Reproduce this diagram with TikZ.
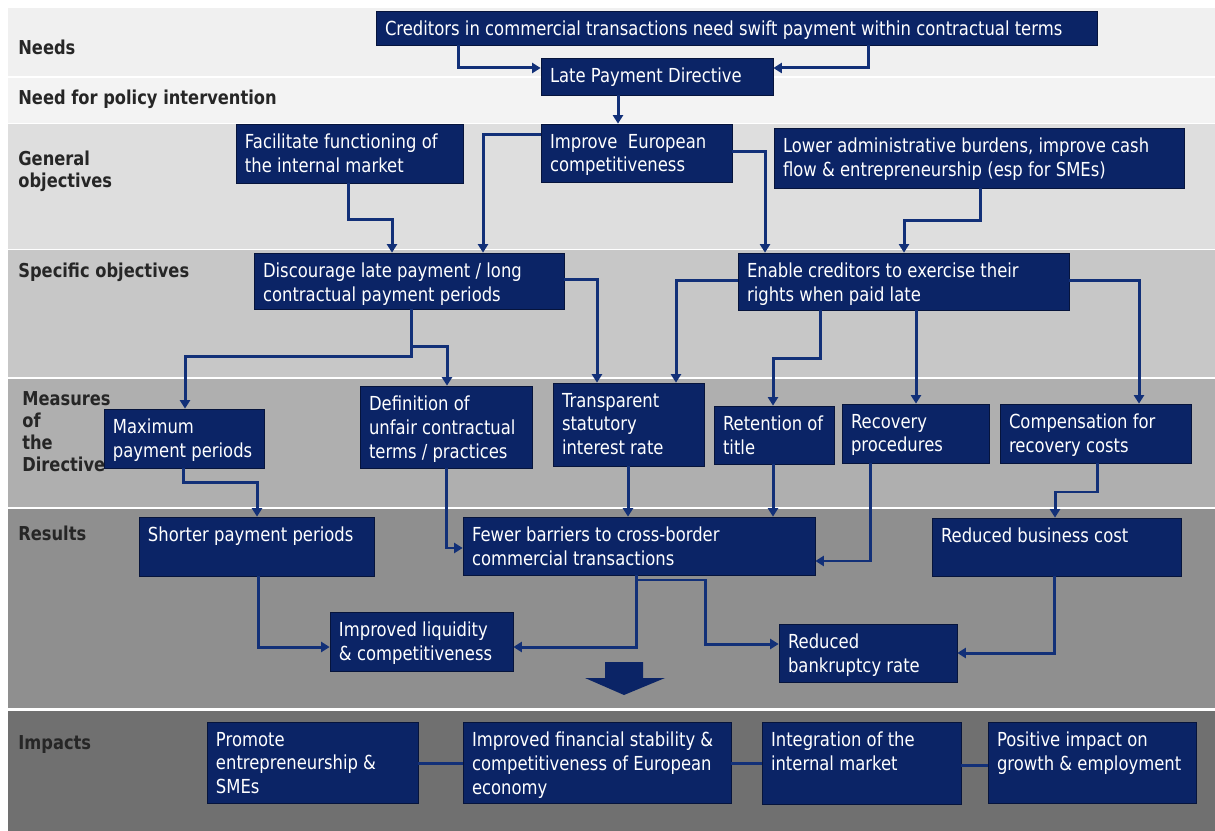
\documentclass[tikz,border=0pt]{standalone}
\usepackage{fontspec}
\setmainfont{DejaVu Sans}[FakeStretch=0.85]
\usepackage{tikz}
\usetikzlibrary{arrows.meta,fit}

\definecolor{boxblue}{RGB}{11,36,102}
\definecolor{boxedge}{RGB}{6,20,60}
\definecolor{linkblue}{RGB}{18,48,120}
\definecolor{bandneed}{RGB}{240,240,240}
\definecolor{bandpol}{RGB}{243,243,243}
\definecolor{bandgen}{RGB}{222,222,222}
\definecolor{bandspec}{RGB}{199,199,199}
\definecolor{bandmeas}{RGB}{175,175,175}
\definecolor{bandres}{RGB}{143,143,143}
\definecolor{bandimp}{RGB}{112,112,112}

\begin{document}
\begin{tikzpicture}[x=0.02cm,y=-0.02cm,
  box/.style={fill=boxblue,draw=boxedge,line width=0.4pt,inner sep=0pt},
  txt/.style={anchor=north west,align=left,text=white,inner xsep=0.18cm,inner ysep=0.2cm,
    font=\fontsize{11}{13.6}\selectfont},
  lbl/.style={anchor=west,align=left,inner sep=0pt,text=black!85,
    font=\bfseries\fontsize{10.9}{12.5}\selectfont},
  arr/.style={draw=linkblue,line width=0.06cm,-{Triangle[length=0.17cm,width=0.2cm]}},
  lnk/.style={draw=linkblue,line width=0.06cm}]
\useasboundingbox (0,0) rectangle (1215,831);

% bands
\fill[bandneed] (8,8) rectangle (1215,76);
\fill[bandpol] (8,78) rectangle (1215,123);
\fill[bandgen] (8,124) rectangle (1215,249);
\fill[bandspec] (8,250) rectangle (1215,377);
\fill[bandmeas] (8,379) rectangle (1215,507);
\fill[bandres] (8,509) rectangle (1215,708);
\fill[bandimp] (8,711) rectangle (1215,831);

% row labels
\node[lbl] (lneed) at (18,47) {Needs};
\node[lbl] (lpol) at (18,99) {Need for policy intervention};
\node[lbl] (lgen) at (18,171) {General\\objectives};
\node[lbl] (lspec) at (18,272) {Specific objectives};
\node[lbl] (lmeas) at (22,432) {Measures\\of\\the\\Directive};
\node[lbl] (lres) at (18,533) {Results};
\node[lbl] (limp) at (18,745) {Impacts};

% boxes
\node[box,fit={(376,11) (1097,45)}] (need) {};
\node[txt] (needT) at (need.north west) {Creditors in commercial transactions need swift payment within contractual terms};
\node[box,fit={(541,58) (773,95)}] (lpd) {};
\node[txt] (lpdT) at (lpd.north west) {Late Payment Directive};

\node[box,fit={(236,124) (463,183)}] (facil) {};
\node[txt] (facilT) at (facil.north west) {Facilitate functioning of\\the internal market};
\node[box,fit={(541,124) (732,182)}] (comp) {};
\node[txt] (compT) at (comp.north west) {Improve \ European\\competitiveness};
\node[box,fit={(774,128) (1184,188)}] (lower) {};
\node[txt] (lowerT) at (lower.north west) {Lower administrative burdens, improve cash\\flow \& entrepreneurship (esp for SMEs)};

\node[box,fit={(254,253) (564,309)}] (disc) {};
\node[txt] (discT) at (disc.north west) {Discourage late payment / long\\contractual payment periods};
\node[box,fit={(738,253) (1069,310)}] (enable) {};
\node[txt] (enableT) at (enable.north west) {Enable creditors to exercise their\\rights when paid late};

\node[box,fit={(104,409) (264,468)}] (maxpay) {};
\node[txt] (maxpayT) at (maxpay.north west) {Maximum\\payment periods};
\node[box,fit={(360,386) (532,468)}] (unfair) {};
\node[txt] (unfairT) at (unfair.north west) {Definition of\\unfair contractual\\terms / practices};
\node[box,fit={(553,383) (704,466)}] (rate) {};
\node[txt] (rateT) at (rate.north west) {Transparent\\statutory\\interest rate};
\node[box,fit={(714,406) (834,464)}] (title) {};
\node[txt] (titleT) at (title.north west) {Retention of\\title};
\node[box,fit={(842,404) (989,463)}] (recov) {};
\node[txt] (recovT) at (recov.north west) {Recovery\\procedures};
\node[box,fit={(1000,404) (1191,463)}] (costs) {};
\node[txt] (costsT) at (costs.north west) {Compensation for\\recovery costs};

\node[box,fit={(139,517) (374,576)}] (short) {};
\node[txt] (shortT) at (short.north west) {Shorter payment periods};
\node[box,fit={(463,517) (815,575)}] (fewer) {};
\node[txt] (fewerT) at (fewer.north west) {Fewer barriers to cross-border\\commercial transactions};
\node[box,fit={(932,518) (1181,576)}] (busi) {};
\node[txt] (busiT) at (busi.north west) {Reduced business cost};
\node[box,fit={(330,612) (513,671)}] (liq) {};
\node[txt] (liqT) at (liq.north west) {Improved liquidity\\\& competitiveness};
\node[box,fit={(779,624) (957,682)}] (bank) {};
\node[txt] (bankT) at (bank.north west) {Reduced\\bankruptcy rate};

\node[box,fit={(207,722) (418,803)}] (promo) {};
\node[txt] (promoT) at (promo.north west) {Promote\\entrepreneurship \&\\SMEs};
\node[box,fit={(463,722) (731,803)}] (stab) {};
\node[txt] (stabT) at (stab.north west) {Improved financial stability \&\\competitiveness of European\\economy};
\node[box,fit={(762,722) (961,804)}] (integ) {};
\node[txt] (integT) at (integ.north west) {Integration of the\\internal market};
\node[box,fit={(988,722) (1196,803)}] (growth) {};
\node[txt] (growthT) at (growth.north west) {Positive impact on\\growth \& employment};

% connectors
\coordinate (dsplit) at (411,347);
\coordinate (fsplit) at (636,580);
\draw[arr] (458,0 |- need.south) |- (lpd.west |- 0,68);
\draw[arr] (868,0 |- need.south) |- (lpd.east |- 0,68);
\draw[arr] (618,0 |- lpd.south) -- (618,0 |- comp.north);
\draw[arr] (comp.west |- 0,135) -| (483,0 |- disc.north);
\draw[arr] (comp.east |- 0,152) -| (765,0 |- enable.north);
\draw[arr] (348,0 |- facil.south) -- (348,220) -| (392,0 |- disc.north);
\draw[arr] (980,0 |- lower.south) -- (980,221) -| (904,0 |- enable.north);
\draw[arr] (411,0 |- disc.south) -- (411,357) -| (185,0 |- maxpay.north);
\draw[arr] (dsplit) -| (447,0 |- unfair.north);
\draw[arr] (disc.east |- 0,280) -| (597,0 |- rate.north);
\draw[arr] (enable.west |- 0,281) -| (676,0 |- rate.north);
\draw[arr] (820,0 |- enable.south) -- (820,359) -| (773,0 |- title.north);
\draw[arr] (916,0 |- enable.south) -- (916,0 |- recov.north);
\draw[arr] (enable.east |- 0,281) -| (1139,0 |- costs.north);
\draw[arr] (183,0 |- maxpay.south) -- (183,483) -| (257,0 |- short.north);
\draw[arr] (446,0 |- unfair.south) |- (fewer.west |- 0,548);
\draw[arr] (628,0 |- rate.south) -- (628,0 |- fewer.north);
\draw[arr] (773,0 |- title.south) -- (773,0 |- fewer.north);
\draw[arr] (870,0 |- recov.south) |- (fewer.east |- 0,561);
\draw[arr] (1097,0 |- costs.south) -- (1097,492) -| (1055,0 |- busi.north);
\draw[arr] (258,0 |- short.south) |- (liq.west |- 0,647);
\draw[arr] (636,0 |- fewer.south) |- (liq.east |- 0,647);
\draw[arr] (fsplit) -- (705,580) |- (bank.west |- 0,644);
\draw[arr] (1054,0 |- busi.south) |- (bank.east |- 0,653);
\draw[lnk] (promo.east |- 0,763) -- (stab.west |- 0,763);
\draw[lnk] (stab.east |- 0,763) -- (integ.west |- 0,763);
\draw[lnk] (integ.east |- 0,765) -- (growth.west |- 0,765);

% big arrow down to impacts
\fill[boxblue] (605,662) -- (643,662) -- (643,678) -- (665,678) -- (624,695) -- (585,678) -- (605,678) -- cycle;
\end{tikzpicture}
\end{document}
